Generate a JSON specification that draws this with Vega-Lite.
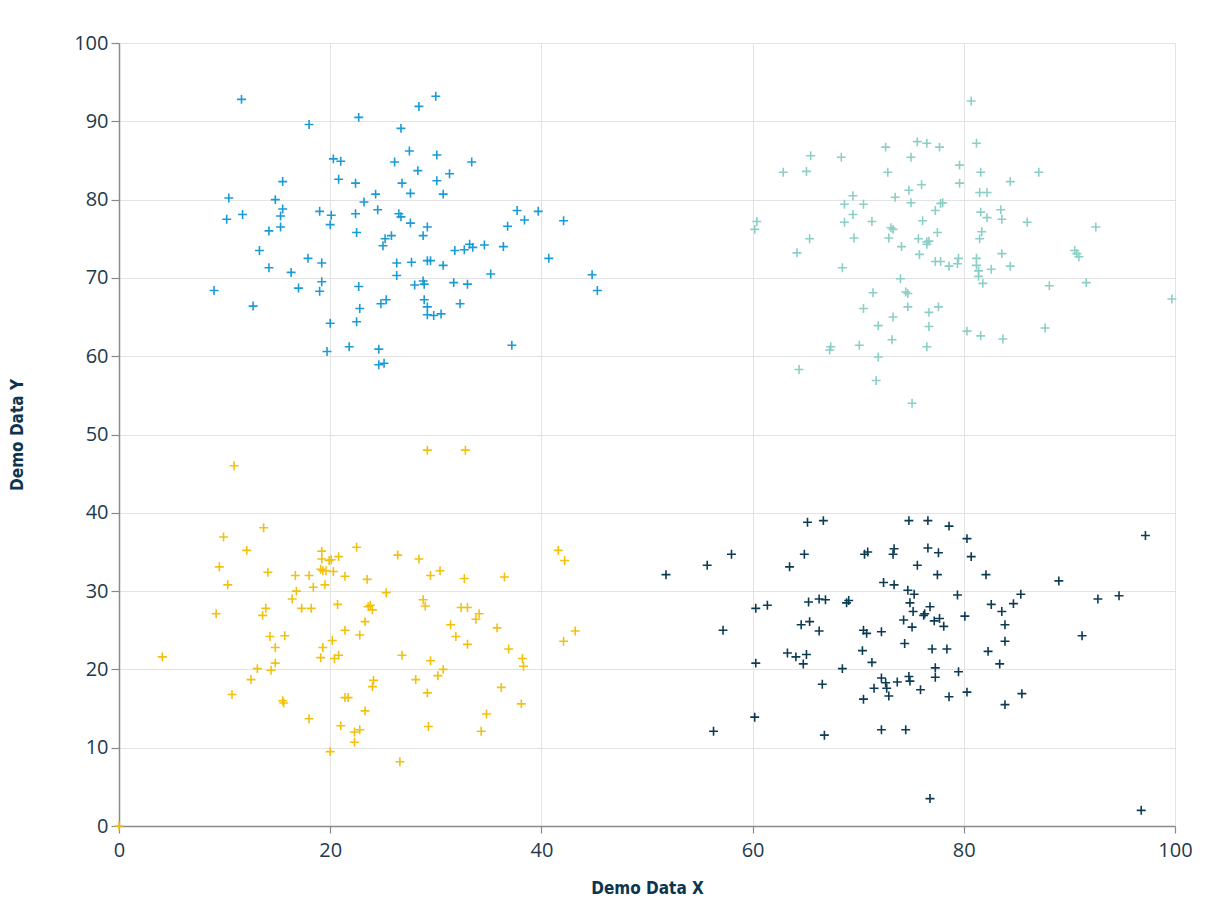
{
  "$schema": "https://vega.github.io/schema/vega-lite/v6.json",
  "width": 1056,
  "height": 783,
  "autosize": "none",
  "padding": {"left": 119, "top": 43, "right": 38, "bottom": 77},
  "background": "white",
  "config": {
    "view": {"stroke": null},
    "axis": {
      "gridColor": "#e3e3e3",
      "gridWidth": 1,
      "domainColor": "#8a8a8a",
      "domainWidth": 1.5,
      "tickColor": "#8a8a8a",
      "tickWidth": 1.2,
      "labelFont": "Open Sans",
      "labelFontSize": 20,
      "labelColor": "#1d3a4c",
      "labelFlush": false,
      "titleFont": "DejaVu Sans Condensed, Roboto Condensed, Liberation Sans Narrow, sans-serif",
      "titleFontWeight": "bold",
      "titleFontSize": 17,
      "titleColor": "#0b3550"
    }
  },
  "data": {"values": [
    {"x":11.6,"y":92.8,"g":"A"},{"x":18.0,"y":89.6,"g":"A"},{"x":22.7,"y":90.5,"g":"A"},{"x":26.7,"y":89.1,"g":"A"},{"x":20.3,"y":85.2,"g":"A"},{"x":21.0,"y":84.9,"g":"A"},{"x":26.1,"y":84.8,"g":"A"},{"x":15.5,"y":82.3,"g":"A"},{"x":20.8,"y":82.6,"g":"A"},{"x":22.4,"y":82.1,"g":"A"},{"x":26.8,"y":82.1,"g":"A"},{"x":10.4,"y":80.2,"g":"A"},{"x":14.8,"y":80.0,"g":"A"},{"x":24.3,"y":80.7,"g":"A"},{"x":23.2,"y":79.7,"g":"A"},{"x":15.5,"y":78.8,"g":"A"},{"x":19.0,"y":78.5,"g":"A"},{"x":24.5,"y":78.7,"g":"A"},{"x":26.5,"y":78.2,"g":"A"},{"x":26.7,"y":77.8,"g":"A"},{"x":20.1,"y":78.0,"g":"A"},{"x":22.4,"y":78.2,"g":"A"},{"x":11.7,"y":78.1,"g":"A"},{"x":10.2,"y":77.5,"g":"A"},{"x":15.3,"y":77.9,"g":"A"},{"x":15.3,"y":76.5,"g":"A"},{"x":14.2,"y":76.0,"g":"A"},{"x":20.0,"y":76.8,"g":"A"},{"x":22.5,"y":75.8,"g":"A"},{"x":25.8,"y":75.4,"g":"A"},{"x":25.2,"y":75.0,"g":"A"},{"x":25.0,"y":74.1,"g":"A"},{"x":13.3,"y":73.5,"g":"A"},{"x":17.9,"y":72.5,"g":"A"},{"x":19.2,"y":71.9,"g":"A"},{"x":26.3,"y":71.9,"g":"A"},{"x":14.2,"y":71.3,"g":"A"},{"x":16.3,"y":70.7,"g":"A"},{"x":26.3,"y":70.3,"g":"A"},{"x":19.2,"y":69.5,"g":"A"},{"x":9.0,"y":68.4,"g":"A"},{"x":17.0,"y":68.7,"g":"A"},{"x":19.0,"y":68.3,"g":"A"},{"x":22.7,"y":68.9,"g":"A"},{"x":24.8,"y":66.7,"g":"A"},{"x":25.3,"y":67.2,"g":"A"},{"x":12.7,"y":66.4,"g":"A"},{"x":22.8,"y":66.1,"g":"A"},{"x":20.0,"y":64.2,"g":"A"},{"x":22.5,"y":64.4,"g":"A"},{"x":19.7,"y":60.6,"g":"A"},{"x":21.8,"y":61.2,"g":"A"},{"x":24.6,"y":60.9,"g":"A"},{"x":24.6,"y":58.9,"g":"A"},{"x":25.1,"y":59.1,"g":"A"},
    {"x":30.0,"y":93.2,"g":"A"},{"x":28.4,"y":91.9,"g":"A"},{"x":27.5,"y":86.2,"g":"A"},{"x":30.1,"y":85.7,"g":"A"},{"x":33.4,"y":84.8,"g":"A"},{"x":28.3,"y":83.7,"g":"A"},{"x":31.3,"y":83.3,"g":"A"},{"x":30.1,"y":82.4,"g":"A"},{"x":27.6,"y":80.8,"g":"A"},{"x":30.7,"y":80.7,"g":"A"},{"x":27.6,"y":77.0,"g":"A"},{"x":29.2,"y":76.5,"g":"A"},{"x":28.8,"y":75.4,"g":"A"},{"x":37.7,"y":78.6,"g":"A"},{"x":39.7,"y":78.5,"g":"A"},{"x":38.4,"y":77.4,"g":"A"},{"x":42.1,"y":77.3,"g":"A"},{"x":36.8,"y":76.6,"g":"A"},{"x":33.2,"y":74.3,"g":"A"},{"x":33.5,"y":73.9,"g":"A"},{"x":31.8,"y":73.5,"g":"A"},{"x":32.7,"y":73.6,"g":"A"},{"x":34.6,"y":74.2,"g":"A"},{"x":36.4,"y":74.0,"g":"A"},{"x":40.7,"y":72.5,"g":"A"},{"x":27.7,"y":72.0,"g":"A"},{"x":29.2,"y":72.2,"g":"A"},{"x":29.5,"y":72.2,"g":"A"},{"x":30.7,"y":71.6,"g":"A"},{"x":35.2,"y":70.5,"g":"A"},{"x":44.8,"y":70.4,"g":"A"},{"x":45.3,"y":68.4,"g":"A"},{"x":28.0,"y":69.1,"g":"A"},{"x":28.8,"y":69.6,"g":"A"},{"x":28.9,"y":69.2,"g":"A"},{"x":31.7,"y":69.4,"g":"A"},{"x":33.0,"y":69.2,"g":"A"},{"x":28.9,"y":67.2,"g":"A"},{"x":29.2,"y":66.3,"g":"A"},{"x":29.2,"y":65.3,"g":"A"},{"x":29.8,"y":65.2,"g":"A"},{"x":30.5,"y":65.4,"g":"A"},{"x":32.3,"y":66.7,"g":"A"},{"x":37.2,"y":61.4,"g":"A"},
    {"x":75.6,"y":87.4,"g":"B"},{"x":76.5,"y":87.2,"g":"B"},{"x":77.7,"y":86.7,"g":"B"},{"x":72.6,"y":86.7,"g":"B"},{"x":65.5,"y":85.6,"g":"B"},{"x":68.4,"y":85.4,"g":"B"},{"x":75.0,"y":85.4,"g":"B"},{"x":62.9,"y":83.5,"g":"B"},{"x":65.1,"y":83.6,"g":"B"},{"x":72.8,"y":83.5,"g":"B"},{"x":79.6,"y":84.4,"g":"B"},{"x":79.6,"y":82.1,"g":"B"},{"x":76.0,"y":81.9,"g":"B"},{"x":74.8,"y":81.2,"g":"B"},{"x":69.5,"y":80.5,"g":"B"},{"x":73.5,"y":80.3,"g":"B"},{"x":68.7,"y":79.4,"g":"B"},{"x":70.5,"y":79.4,"g":"B"},{"x":75.0,"y":79.6,"g":"B"},{"x":77.8,"y":79.5,"g":"B"},{"x":78.0,"y":79.6,"g":"B"},{"x":77.3,"y":78.6,"g":"B"},{"x":69.5,"y":78.1,"g":"B"},{"x":68.7,"y":77.1,"g":"B"},{"x":71.3,"y":77.2,"g":"B"},{"x":76.1,"y":77.3,"g":"B"},{"x":60.4,"y":77.2,"g":"B"},{"x":60.2,"y":76.2,"g":"B"},{"x":73.1,"y":76.4,"g":"B"},{"x":73.3,"y":76.2,"g":"B"},{"x":77.5,"y":75.8,"g":"B"},{"x":65.4,"y":75.0,"g":"B"},{"x":69.6,"y":75.1,"g":"B"},{"x":72.9,"y":75.1,"g":"B"},{"x":75.7,"y":75.0,"g":"B"},{"x":76.5,"y":74.6,"g":"B"},{"x":76.7,"y":74.7,"g":"B"},{"x":76.5,"y":74.3,"g":"B"},{"x":74.1,"y":74.0,"g":"B"},{"x":64.2,"y":73.2,"g":"B"},{"x":75.8,"y":73.0,"g":"B"},{"x":77.3,"y":72.1,"g":"B"},{"x":77.8,"y":72.1,"g":"B"},{"x":78.6,"y":71.5,"g":"B"},{"x":79.5,"y":72.5,"g":"B"},{"x":79.4,"y":71.8,"g":"B"},{"x":68.5,"y":71.3,"g":"B"},{"x":74.0,"y":69.9,"g":"B"},{"x":71.4,"y":68.1,"g":"B"},{"x":74.5,"y":68.2,"g":"B"},{"x":74.7,"y":68.0,"g":"B"},{"x":70.5,"y":66.1,"g":"B"},{"x":74.7,"y":66.3,"g":"B"},{"x":77.6,"y":66.3,"g":"B"},{"x":73.3,"y":65.0,"g":"B"},{"x":76.7,"y":65.6,"g":"B"},{"x":71.9,"y":63.9,"g":"B"},{"x":76.7,"y":63.8,"g":"B"},{"x":73.2,"y":62.1,"g":"B"},{"x":76.5,"y":61.2,"g":"B"},{"x":67.4,"y":61.2,"g":"B"},{"x":67.3,"y":60.8,"g":"B"},{"x":70.1,"y":61.4,"g":"B"},{"x":71.9,"y":59.9,"g":"B"},{"x":64.4,"y":58.3,"g":"B"},{"x":71.7,"y":56.9,"g":"B"},{"x":75.1,"y":54.0,"g":"B"},
    {"x":80.7,"y":92.6,"g":"B"},{"x":81.2,"y":87.2,"g":"B"},{"x":81.6,"y":83.5,"g":"B"},{"x":87.1,"y":83.5,"g":"B"},{"x":84.4,"y":82.3,"g":"B"},{"x":81.5,"y":80.9,"g":"B"},{"x":82.2,"y":80.9,"g":"B"},{"x":81.6,"y":78.4,"g":"B"},{"x":83.5,"y":78.7,"g":"B"},{"x":82.2,"y":77.7,"g":"B"},{"x":83.6,"y":77.5,"g":"B"},{"x":86.0,"y":77.1,"g":"B"},{"x":92.5,"y":76.5,"g":"B"},{"x":81.7,"y":75.9,"g":"B"},{"x":81.5,"y":75.0,"g":"B"},{"x":83.6,"y":73.1,"g":"B"},{"x":90.5,"y":73.5,"g":"B"},{"x":90.7,"y":73.1,"g":"B"},{"x":90.9,"y":72.7,"g":"B"},{"x":81.2,"y":72.5,"g":"B"},{"x":81.2,"y":71.6,"g":"B"},{"x":81.4,"y":70.9,"g":"B"},{"x":81.4,"y":70.2,"g":"B"},{"x":82.6,"y":71.1,"g":"B"},{"x":84.4,"y":71.5,"g":"B"},{"x":81.8,"y":69.3,"g":"B"},{"x":88.1,"y":69.0,"g":"B"},{"x":91.6,"y":69.4,"g":"B"},{"x":99.7,"y":67.3,"g":"B"},{"x":87.7,"y":63.6,"g":"B"},{"x":80.3,"y":63.2,"g":"B"},{"x":81.6,"y":62.6,"g":"B"},{"x":83.7,"y":62.2,"g":"B"},
    {"x":10.9,"y":46.0,"g":"C"},{"x":13.7,"y":38.1,"g":"C"},{"x":9.9,"y":36.9,"g":"C"},{"x":12.1,"y":35.2,"g":"C"},{"x":9.5,"y":33.1,"g":"C"},{"x":14.1,"y":32.4,"g":"C"},{"x":10.3,"y":30.8,"g":"C"},{"x":9.2,"y":27.1,"g":"C"},{"x":4.1,"y":21.6,"g":"C"},{"x":19.2,"y":35.1,"g":"C"},{"x":19.2,"y":34.1,"g":"C"},{"x":19.9,"y":33.9,"g":"C"},{"x":20.1,"y":34.0,"g":"C"},{"x":20.8,"y":34.4,"g":"C"},{"x":22.5,"y":35.6,"g":"C"},{"x":19.1,"y":32.8,"g":"C"},{"x":19.3,"y":32.6,"g":"C"},{"x":19.6,"y":32.6,"g":"C"},{"x":20.3,"y":32.5,"g":"C"},{"x":16.7,"y":32.0,"g":"C"},{"x":18.0,"y":32.0,"g":"C"},{"x":21.4,"y":31.9,"g":"C"},{"x":23.5,"y":31.5,"g":"C"},{"x":18.4,"y":30.5,"g":"C"},{"x":19.5,"y":30.8,"g":"C"},{"x":16.8,"y":30.0,"g":"C"},{"x":16.4,"y":29.0,"g":"C"},{"x":13.9,"y":27.8,"g":"C"},{"x":13.6,"y":26.9,"g":"C"},{"x":17.3,"y":27.8,"g":"C"},{"x":18.2,"y":27.8,"g":"C"},{"x":20.7,"y":28.3,"g":"C"},{"x":23.6,"y":28.0,"g":"C"},{"x":23.3,"y":26.1,"g":"C"},{"x":21.4,"y":25.0,"g":"C"},{"x":22.8,"y":24.4,"g":"C"},{"x":14.3,"y":24.2,"g":"C"},{"x":15.7,"y":24.3,"g":"C"},{"x":14.8,"y":22.8,"g":"C"},{"x":20.2,"y":23.7,"g":"C"},{"x":19.3,"y":22.8,"g":"C"},{"x":19.1,"y":21.5,"g":"C"},{"x":20.4,"y":21.4,"g":"C"},{"x":20.8,"y":21.8,"g":"C"},{"x":14.8,"y":20.8,"g":"C"},{"x":13.1,"y":20.1,"g":"C"},{"x":14.4,"y":19.9,"g":"C"},{"x":12.5,"y":18.7,"g":"C"},{"x":10.7,"y":16.8,"g":"C"},{"x":15.5,"y":16.0,"g":"C"},{"x":15.6,"y":15.7,"g":"C"},{"x":21.4,"y":16.4,"g":"C"},{"x":21.7,"y":16.4,"g":"C"},{"x":23.3,"y":14.7,"g":"C"},{"x":18.0,"y":13.7,"g":"C"},{"x":21.0,"y":12.8,"g":"C"},{"x":22.3,"y":12.0,"g":"C"},{"x":22.8,"y":12.3,"g":"C"},{"x":22.3,"y":10.7,"g":"C"},{"x":20.0,"y":9.5,"g":"C"},
    {"x":29.2,"y":48.0,"g":"C"},{"x":32.8,"y":48.0,"g":"C"},{"x":41.6,"y":35.2,"g":"C"},{"x":42.2,"y":33.9,"g":"C"},{"x":26.4,"y":34.6,"g":"C"},{"x":28.4,"y":34.1,"g":"C"},{"x":29.5,"y":32.0,"g":"C"},{"x":30.4,"y":32.6,"g":"C"},{"x":32.7,"y":31.6,"g":"C"},{"x":36.5,"y":31.8,"g":"C"},{"x":25.3,"y":29.8,"g":"C"},{"x":28.8,"y":28.9,"g":"C"},{"x":29.0,"y":28.1,"g":"C"},{"x":23.8,"y":28.2,"g":"C"},{"x":24.0,"y":27.6,"g":"C"},{"x":32.4,"y":27.9,"g":"C"},{"x":33.0,"y":27.9,"g":"C"},{"x":34.1,"y":27.1,"g":"C"},{"x":33.8,"y":26.4,"g":"C"},{"x":31.4,"y":25.7,"g":"C"},{"x":35.8,"y":25.3,"g":"C"},{"x":31.9,"y":24.2,"g":"C"},{"x":33.0,"y":23.2,"g":"C"},{"x":42.1,"y":23.6,"g":"C"},{"x":43.2,"y":24.9,"g":"C"},{"x":36.9,"y":22.6,"g":"C"},{"x":26.8,"y":21.8,"g":"C"},{"x":29.5,"y":21.1,"g":"C"},{"x":38.2,"y":21.4,"g":"C"},{"x":38.3,"y":20.4,"g":"C"},{"x":30.7,"y":20.0,"g":"C"},{"x":30.2,"y":19.2,"g":"C"},{"x":24.1,"y":18.6,"g":"C"},{"x":24.0,"y":17.8,"g":"C"},{"x":28.1,"y":18.7,"g":"C"},{"x":29.2,"y":17.0,"g":"C"},{"x":36.2,"y":17.7,"g":"C"},{"x":38.1,"y":15.6,"g":"C"},{"x":34.8,"y":14.3,"g":"C"},{"x":29.3,"y":12.7,"g":"C"},{"x":34.3,"y":12.1,"g":"C"},{"x":26.6,"y":8.2,"g":"C"},{"x":0,"y":0,"g":"C"},
    {"x":65.2,"y":38.8,"g":"D"},{"x":66.7,"y":39.0,"g":"D"},{"x":58.0,"y":34.7,"g":"D"},{"x":55.7,"y":33.3,"g":"D"},{"x":51.8,"y":32.1,"g":"D"},{"x":64.9,"y":34.7,"g":"D"},{"x":63.5,"y":33.1,"g":"D"},{"x":70.6,"y":34.7,"g":"D"},{"x":70.9,"y":35.0,"g":"D"},{"x":60.3,"y":27.8,"g":"D"},{"x":61.4,"y":28.2,"g":"D"},{"x":65.3,"y":28.6,"g":"D"},{"x":66.3,"y":29.0,"g":"D"},{"x":66.9,"y":28.9,"g":"D"},{"x":68.9,"y":28.5,"g":"D"},{"x":69.1,"y":28.8,"g":"D"},{"x":57.2,"y":25.0,"g":"D"},{"x":64.6,"y":25.7,"g":"D"},{"x":65.4,"y":26.1,"g":"D"},{"x":66.3,"y":24.9,"g":"D"},{"x":70.5,"y":25.0,"g":"D"},{"x":70.8,"y":24.6,"g":"D"},{"x":72.2,"y":24.8,"g":"D"},{"x":63.3,"y":22.1,"g":"D"},{"x":64.1,"y":21.6,"g":"D"},{"x":65.1,"y":21.9,"g":"D"},{"x":64.8,"y":20.7,"g":"D"},{"x":60.3,"y":20.8,"g":"D"},{"x":68.5,"y":20.1,"g":"D"},{"x":70.4,"y":22.4,"g":"D"},{"x":71.3,"y":20.9,"g":"D"},{"x":66.6,"y":18.1,"g":"D"},{"x":71.5,"y":17.6,"g":"D"},{"x":70.5,"y":16.2,"g":"D"},{"x":60.2,"y":13.9,"g":"D"},{"x":56.3,"y":12.1,"g":"D"},{"x":66.8,"y":11.6,"g":"D"},{"x":72.2,"y":12.3,"g":"D"},
    {"x":74.8,"y":39.0,"g":"D"},{"x":76.6,"y":39.0,"g":"D"},{"x":78.6,"y":38.3,"g":"D"},{"x":80.3,"y":36.7,"g":"D"},{"x":97.2,"y":37.1,"g":"D"},{"x":73.4,"y":35.4,"g":"D"},{"x":73.3,"y":34.7,"g":"D"},{"x":76.6,"y":35.5,"g":"D"},{"x":77.6,"y":34.9,"g":"D"},{"x":80.7,"y":34.4,"g":"D"},{"x":75.6,"y":33.3,"g":"D"},{"x":77.5,"y":32.1,"g":"D"},{"x":82.1,"y":32.1,"g":"D"},{"x":89.0,"y":31.3,"g":"D"},{"x":72.4,"y":31.1,"g":"D"},{"x":73.4,"y":30.8,"g":"D"},{"x":74.7,"y":30.1,"g":"D"},{"x":75.3,"y":29.6,"g":"D"},{"x":79.4,"y":29.5,"g":"D"},{"x":85.4,"y":29.6,"g":"D"},{"x":92.7,"y":29.0,"g":"D"},{"x":94.7,"y":29.4,"g":"D"},{"x":74.9,"y":28.5,"g":"D"},{"x":76.8,"y":28.0,"g":"D"},{"x":82.6,"y":28.3,"g":"D"},{"x":84.7,"y":28.4,"g":"D"},{"x":75.2,"y":27.4,"g":"D"},{"x":76.2,"y":26.9,"g":"D"},{"x":76.3,"y":27.1,"g":"D"},{"x":83.6,"y":27.4,"g":"D"},{"x":80.1,"y":26.8,"g":"D"},{"x":74.3,"y":26.3,"g":"D"},{"x":77.2,"y":26.2,"g":"D"},{"x":77.7,"y":26.5,"g":"D"},{"x":75.1,"y":25.4,"g":"D"},{"x":78.1,"y":25.5,"g":"D"},{"x":83.9,"y":25.7,"g":"D"},{"x":91.2,"y":24.3,"g":"D"},{"x":74.4,"y":23.3,"g":"D"},{"x":83.9,"y":23.6,"g":"D"},{"x":77.0,"y":22.6,"g":"D"},{"x":78.4,"y":22.6,"g":"D"},{"x":82.3,"y":22.3,"g":"D"},{"x":83.4,"y":20.7,"g":"D"},{"x":77.3,"y":20.2,"g":"D"},{"x":79.5,"y":19.7,"g":"D"},{"x":72.2,"y":18.9,"g":"D"},{"x":72.6,"y":18.3,"g":"D"},{"x":72.7,"y":17.6,"g":"D"},{"x":72.9,"y":16.6,"g":"D"},{"x":73.7,"y":18.4,"g":"D"},{"x":74.8,"y":19.1,"g":"D"},{"x":74.9,"y":18.5,"g":"D"},{"x":77.3,"y":19.0,"g":"D"},{"x":75.9,"y":17.4,"g":"D"},{"x":80.3,"y":17.1,"g":"D"},{"x":78.6,"y":16.5,"g":"D"},{"x":85.5,"y":16.9,"g":"D"},{"x":83.9,"y":15.5,"g":"D"},{"x":74.5,"y":12.3,"g":"D"},{"x":76.8,"y":3.5,"g":"D"},{"x":96.8,"y":2.0,"g":"D"}
  ]},
  "mark": {"type": "point", "shape": "M-1,0L1,0M0,-1L0,1", "filled": false, "size": 80, "strokeWidth": 1.6, "opacity": 1},
  "encoding": {
    "x": {"field": "x", "type": "quantitative", "scale": {"domain": [0, 100], "nice": false},
      "axis": {"title": "Demo Data X", "tickCount": 5, "tickSize": 7, "labelPadding": 7, "titlePadding": 20}},
    "y": {"field": "y", "type": "quantitative", "scale": {"domain": [0, 100], "nice": false},
      "axis": {"title": "Demo Data Y", "tickCount": 10, "tickSize": 8, "labelPadding": 3, "titlePadding": 47}},
    "color": {"field": "g", "type": "nominal",
      "scale": {"domain": ["A", "B", "C", "D"], "range": ["#1a9bd7", "#8ccfc6", "#f2c10f", "#0d3b54"]},
      "legend": null}
  }
}
